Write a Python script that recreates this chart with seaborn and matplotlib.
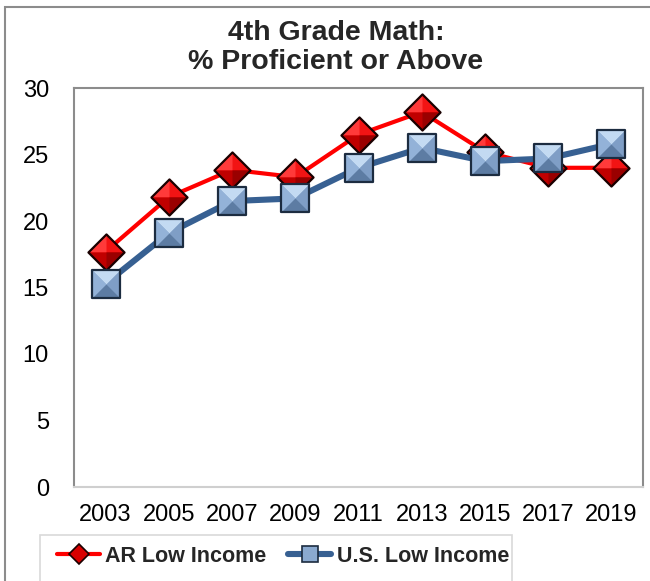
import numpy as np
import pandas as pd
import matplotlib
matplotlib.use("Agg")
import matplotlib.pyplot as plt
import seaborn as sns
from matplotlib.path import Path
from matplotlib.lines import Line2D
from matplotlib.patches import Rectangle

# ---- data -------------------------------------------------------------
years = [2003, 2005, 2007, 2009, 2011, 2013, 2015, 2017, 2019]
ar_low_income = [17.7, 21.8, 23.85, 23.3, 26.5, 28.2, 25.2, 24.0, 24.0]
us_low_income = [15.3, 19.1, 21.5, 21.7, 24.0, 25.5, 24.5, 24.7, 25.8]
series_names = ["AR Low Income", "U.S. Low Income"]
title_lines = ["4th Grade Math:", "% Proficient or Above"]
y_ticks = [0, 5, 10, 15, 20, 25, 30]

df = pd.DataFrame({
    "Year": years * 2,
    "Percent": ar_low_income + us_low_income,
    "Group": [series_names[0]] * len(years) + [series_names[1]] * len(years),
})

# ---- style --------------------------------------------------------------
sns.set_theme(style="white")
plt.rcParams["font.family"] = ["Liberation Sans", "DejaVu Sans"]

RED = "#ff0000"
BLUE = "#376092"

W, H = 650, 581
fig = plt.figure(figsize=(W / 100, H / 100), dpi=100)
ax = fig.add_axes([74 / W, 1 - 487 / H, (643 - 74) / W, (487 - 88) / H])


def tri(pts):
    verts = list(pts) + [pts[0]]
    codes = [Path.MOVETO] + [Path.LINETO] * (len(pts) - 1) + [Path.CLOSEPOLY]
    return Path(verts, codes)


# bevelled square: four triangles meeting at the centre
sq_top = tri([(-1, 1), (1, 1), (0, 0)])
sq_bot = tri([(-1, -1), (1, -1), (0, 0)])
sq_left = tri([(-1, 1), (-1, -1), (0, 0)])
sq_right = tri([(1, 1), (1, -1), (0, 0)])
sq_full = tri([(-1, 1), (1, 1), (1, -1), (-1, -1)])

# faceted diamond
dm_top = tri([(-1, 0), (0, 1), (1, 0), (0, 0)])
dm_ul = tri([(-1, 0), (0, 1), (0, 0)])
dm_bot = tri([(-1, 0), (0, -1), (1, 0), (0, 0)])
dm_br = tri([(1, 0), (0, -1), (0, 0)])
dm_full = tri([(0, 1), (1, 0), (0, -1), (-1, 0)])


def draw_facets(x, y, facets, size, z):
    for path, color in facets:
        ax.plot(x, y, linestyle="none", marker=path, markersize=size,
                markerfacecolor=color, markeredgewidth=0, zorder=z)


# AR series: line, then diamonds
ar = df[df["Group"] == series_names[0]]
sns.lineplot(data=ar, x="Year", y="Percent", color=RED, linewidth=3.0,
             ax=ax, legend=False, zorder=2)
D_SIZE = 26
draw_facets(ar["Year"], ar["Percent"],
            [(dm_full, "#e00000"), (dm_top, "#f21414"), (dm_ul, "#ff3a3a"),
             (dm_bot, "#c00000"), (dm_br, "#9a0000")], D_SIZE, 3)
ax.plot(ar["Year"], ar["Percent"], linestyle="none", marker=dm_full,
        markersize=D_SIZE, markerfacecolor="none", markeredgecolor="#1a0000",
        markeredgewidth=1.6, zorder=3)

# U.S. series: line, then bevelled squares (drawn above the AR marks)
us = df[df["Group"] == series_names[1]]
sns.lineplot(data=us, x="Year", y="Percent", color=BLUE, linewidth=4.4,
             ax=ax, legend=False, zorder=4)
S_SIZE = 20
draw_facets(us["Year"], us["Percent"],
            [(sq_full, "#8aa9cf"), (sq_top, "#c3daf2"), (sq_left, "#93b2d8"),
             (sq_right, "#7f9ec6"), (sq_bot, "#5d7ca3")], S_SIZE, 5)
ax.plot(us["Year"], us["Percent"], linestyle="none", marker=sq_full,
        markersize=S_SIZE, markerfacecolor="none", markeredgecolor="#1c2c40",
        markeredgewidth=1.6, zorder=5)

# ---- axes -----------------------------------------------------------------
ax.set_xlim(years[0] - 1, years[-1] + 1)
ax.set_ylim(y_ticks[0], y_ticks[-1])
ax.set_xticks(years)
ax.set_xticklabels([str(y) for y in years])
ax.set_yticks(y_ticks)
ax.set_xlabel("")
ax.set_ylabel("")
ax.tick_params(axis="both", length=0, labelsize=17, colors="black")
ax.tick_params(axis="x", pad=12)
ax.tick_params(axis="y", pad=18)
for side in ["left", "top", "right"]:
    ax.spines[side].set_color("#8c8c8c")
    ax.spines[side].set_linewidth(1.5)
ax.spines["bottom"].set_color("#cfcfcf")
ax.spines["bottom"].set_linewidth(1.5)
ax.grid(False)

# ---- title ----------------------------------------------------------------
fig.text(336 / W, 1 - 33 / H, title_lines[0], ha="center", va="center",
         fontsize=20.5, fontweight="bold")
fig.text(336 / W, 1 - 62 / H, title_lines[1], ha="center", va="center",
         fontsize=20.5, fontweight="bold")

# ---- outer chart border and legend box -------------------------------------
fig.patches.append(Rectangle((5 / W, -0.2), 1.2, 1 - 7 / H + 0.2,
                             transform=fig.transFigure, fill=False,
                             edgecolor="#8c8c8c", linewidth=1.5))
fig.patches.append(Rectangle((40 / W, -0.2), (512 - 40) / W, 1 - 535 / H + 0.2,
                             transform=fig.transFigure, fill=False,
                             edgecolor="#d9d9d9", linewidth=1.2))

handles = [
    Line2D([], [], color=RED, linewidth=3.0, marker="D", markersize=10,
           markerfacecolor="#d80000", markeredgecolor="#1a0000",
           markeredgewidth=1.2),
    Line2D([], [], color=BLUE, linewidth=4.4, marker="s", markersize=11,
           markerfacecolor="#8aa9cf", markeredgecolor="#1c2c40",
           markeredgewidth=1.2),
]
fig.legend(handles, series_names, loc="center left",
           bbox_to_anchor=(57 / W, 1 - 556 / H), ncol=2, frameon=False,
           prop={"size": 15.5, "weight": "bold"}, handlelength=2.0,
           handletextpad=0.25, columnspacing=1.0, borderpad=0, borderaxespad=0)

fig.savefig("out.png", dpi=100)
